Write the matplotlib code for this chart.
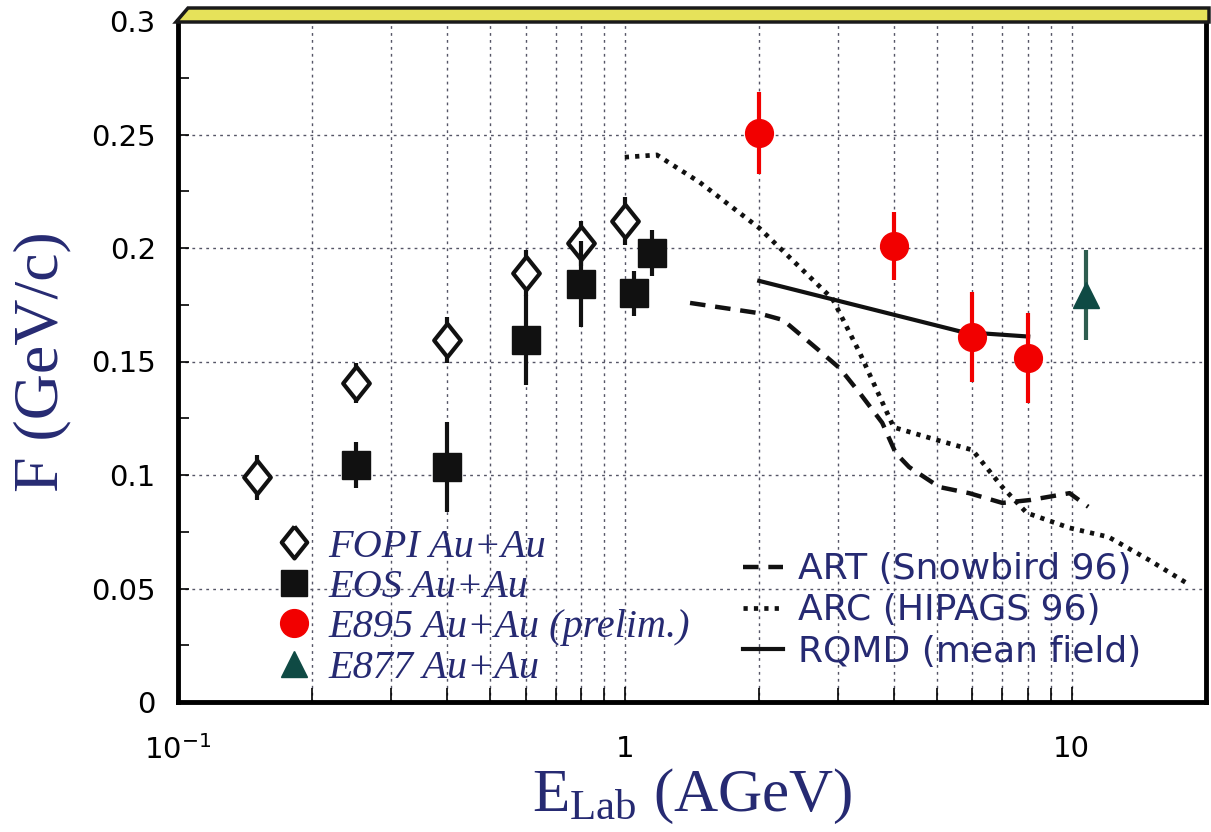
import matplotlib
matplotlib.use('Agg')
import matplotlib.pyplot as plt
from matplotlib.patches import Polygon
from matplotlib.lines import Line2D
from matplotlib.ticker import FixedLocator, FixedFormatter, NullFormatter, MultipleLocator

plt.rcParams['mathtext.fontset'] = 'custom'
plt.rcParams['mathtext.rm'] = 'Liberation Serif'
plt.rcParams['mathtext.it'] = 'Liberation Serif:italic'

# flow data, F in GeV/c vs beam energy in AGeV
fopi_e = [0.15, 0.25, 0.4, 0.6, 0.8, 1.0]
fopi_f = [0.099, 0.1405, 0.1595, 0.189, 0.202, 0.212]
fopi_err = [0.01, 0.009, 0.01, 0.01, 0.01, 0.0105]

eos_e = [0.25, 0.4, 0.6, 0.8, 1.05, 1.15]
eos_f = [0.1044, 0.1035, 0.1595, 0.184, 0.180, 0.1978]
eos_err = [0.01, 0.02, 0.02, 0.019, 0.01, 0.01]

e895_e = [2.0, 4.0, 6.0, 8.0]
e895_f = [0.2507, 0.2009, 0.1608, 0.1515]
e895_err = [0.018, 0.015, 0.02, 0.02]

e877_e = [10.8]
e877_f = [0.1793]
e877_err = [0.02]

# model curves
art_e = [1.40, 1.98, 2.26, 2.68, 3.03, 3.36, 3.77, 4.04, 4.33, 5.06, 5.9, 7.0, 8.1, 9.9, 10.9]
art_f = [0.1758, 0.1714, 0.1683, 0.156, 0.147, 0.136, 0.123, 0.1097, 0.1035, 0.0947, 0.092, 0.0877, 0.089, 0.092, 0.086]

arc_e = [1.0, 1.18, 1.47, 2.0, 2.92, 3.36, 4.0, 5.0, 6.0, 7.0, 7.94, 9.9, 12.1, 14.9, 18.1]
arc_f = [0.240, 0.241, 0.229, 0.2088, 0.1775, 0.1537, 0.121, 0.1154, 0.111, 0.0947, 0.0833, 0.0767, 0.0727, 0.0626, 0.0524]

rqmd_e = [2.0, 5.7, 8.0]
rqmd_f = [0.1855, 0.163, 0.161]

y_ticks = [0, 0.05, 0.1, 0.15, 0.2, 0.25, 0.3]
y_labels = ['0', '0.05', '0.1', '0.15', '0.2', '0.25', '0.3']
x_ticks = [0.1, 1, 10]
x_labels = [r'$\mathdefault{10^{-1}}$', '1', '10']

navy = '#262a72'
red = '#f20000'
teal = '#0f4a44'

# open diamond, a bit wider than the thin 'd' marker
diamond = [(0, 1), (0.8, 0), (0, -1), (-0.8, 0), (0, 1)]

fig = plt.figure(figsize=(12.11, 8.32), dpi=100)
ax = fig.add_axes([178/1211, 1-702/832, 1028/1211, 681/832])

ax.set_xscale('log')
ax.set_xlim(0.1, 20)
ax.set_ylim(0, 0.3)

# ticks and grid
ax.xaxis.set_major_locator(FixedLocator(x_ticks))
ax.xaxis.set_major_formatter(FixedFormatter(x_labels))
minor_x = [m * d for d in (0.1, 1) for m in range(2, 10)]
ax.xaxis.set_minor_locator(FixedLocator(minor_x))
ax.xaxis.set_minor_formatter(NullFormatter())
ax.yaxis.set_major_locator(FixedLocator(y_ticks))
ax.yaxis.set_major_formatter(FixedFormatter(y_labels))
ax.yaxis.set_minor_locator(MultipleLocator(0.025))

ax.grid(True, which='major', axis='both', color='#555566', linestyle=(0, (2, 3)), linewidth=1.0)
ax.grid(True, which='minor', axis='x', color='#555566', linestyle=(0, (2, 3)), linewidth=1.0)

ax.tick_params(axis='both', which='both', direction='in', top=False, right=False, width=1.2)
ax.tick_params(axis='x', which='major', length=11, labelsize=21, pad=24)
ax.tick_params(axis='x', which='minor', length=10)
ax.tick_params(axis='y', which='major', length=8, labelsize=21, pad=16)
ax.tick_params(axis='y', which='minor', length=8)

for side in ('left', 'bottom', 'right'):
    ax.spines[side].set_linewidth(3.5)
ax.spines['top'].set_visible(False)

# models
ax.plot(art_e, art_f, color='#111111', linestyle=(0, (3.5, 2.2)), linewidth=3.2, zorder=3)
ax.plot(arc_e, arc_f, color='#111111', linestyle=(0, (0.9, 1.3)), linewidth=3.4, zorder=3)
ax.plot(rqmd_e, rqmd_f, color='#111111', linestyle='-', linewidth=3.0, zorder=3)

# data
ax.errorbar(fopi_e, fopi_f, yerr=fopi_err, fmt='none', ecolor='#111111', elinewidth=3.0,
            capsize=0, zorder=4)
ax.plot(fopi_e, fopi_f, linestyle='none', marker=diamond, ms=24, mfc='white', mec='#111111',
        mew=3.0, zorder=4)
ax.errorbar(eos_e, eos_f, yerr=eos_err, fmt='s', ms=20, mfc='#111111', mec='#111111',
            ecolor='#111111', elinewidth=3.0, capsize=0, zorder=4)
ax.errorbar(e895_e, e895_f, yerr=e895_err, fmt='o', ms=20, mfc=red, mec=red,
            ecolor=red, elinewidth=3.0, capsize=0, zorder=5)
ax.errorbar(e877_e, e877_f, yerr=e877_err, fmt='^', ms=19, mfc=teal, mec=teal,
            ecolor='#2f5e50', elinewidth=3.0, capsize=0, zorder=5)

# legends
data_handles = [
    Line2D([], [], linestyle='none', marker=diamond, ms=23, mfc='white', mec='#111111', mew=3.0),
    Line2D([], [], linestyle='none', marker='s', ms=19, mfc='#111111', mec='#111111'),
    Line2D([], [], linestyle='none', marker='o', ms=20, mfc=red, mec=red),
    Line2D([], [], linestyle='none', marker='^', ms=19, mfc=teal, mec=teal),
]
data_labels = ['FOPI Au+Au', 'EOS Au+Au', 'E895 Au+Au (prelim.)', 'E877 Au+Au']
leg1 = ax.legend(data_handles, data_labels, loc='upper left', bbox_to_anchor=(0.093, 0.255),
                 frameon=False, handlelength=1.0, handletextpad=0.35, labelspacing=0.08,
                 borderpad=0, borderaxespad=0,
                 prop={'family': 'Liberation Serif', 'style': 'italic', 'size': 29})
for t in leg1.get_texts():
    t.set_color(navy)
ax.add_artist(leg1)

model_handles = [
    Line2D([], [], color='#111111', linestyle=(0, (3.5, 2.2)), linewidth=3.2),
    Line2D([], [], color='#111111', linestyle=(0, (0.9, 1.3)), linewidth=3.4),
    Line2D([], [], color='#111111', linestyle='-', linewidth=3.0),
]
model_labels = ['ART (Snowbird 96)', 'ARC (HIPAGS 96)', 'RQMD (mean field)']
leg2 = ax.legend(model_handles, model_labels, loc='upper left', bbox_to_anchor=(0.55, 0.22),
                 frameon=False, handlelength=1.1, handletextpad=0.4, labelspacing=0.2,
                 borderpad=0, borderaxespad=0, prop={'family': 'DejaVu Sans', 'size': 26})
for t in leg2.get_texts():
    t.set_color(navy)

# axis titles
ax.set_xlabel(r'$\mathrm{E}_{\mathrm{Lab}}$ (AGeV)', family='Liberation Serif', fontsize=44,
              color=navy, labelpad=1)
ax.set_ylabel('F (GeV/c)', family='Liberation Serif', fontsize=46, color=navy, labelpad=14)

# bevelled top rail of the frame
H = 832.0
W = 1211.0
rail = [(176/W, 1-22/H), (188/W, 1-8/H), (1209/W, 1-8/H), (1209/W, 1-22/H)]
fig.patches.append(Polygon(rail, closed=True, transform=fig.transFigure, facecolor='#e6e25a',
                           edgecolor='#1a1a1a', linewidth=2.5, zorder=10))

fig.savefig('out.png', dpi=100)
